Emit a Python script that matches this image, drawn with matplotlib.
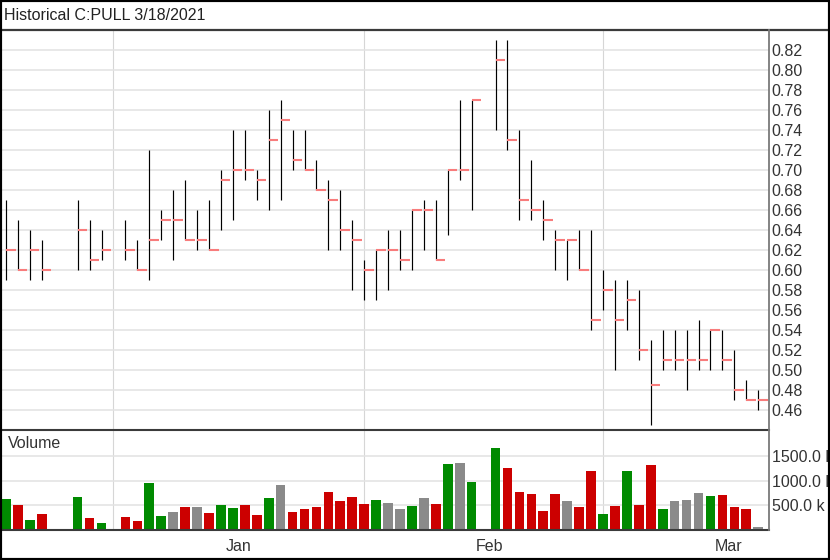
"""
Historical bar chart for C:PULL (Dec 2020 - Mar 2021), price HLC bars + volume.
"""
import matplotlib
matplotlib.use("Agg")
import matplotlib.pyplot as plt
import matplotlib.ticker as mticker
from matplotlib.patches import Rectangle
from matplotlib.lines import Line2D
import numpy as np
import pandas as pd

plt.rcParams["font.family"] = ["Liberation Sans", "DejaVu Sans"]

W, H = 830, 560
DPI = 100

TITLE = "Historical C:PULL 3/18/2021"

# one slot per weekday; None = no trade that day
dates = pd.bdate_range("2020-12-21", "2021-03-18")

highs = [0.67, 0.65, 0.64, 0.63, None, None, 0.67, 0.65, 0.64, None,
         0.65, 0.63, 0.72, 0.66, 0.68, 0.69, 0.66, 0.67, 0.70, 0.74,
         0.74, 0.70, 0.76, 0.77, 0.74, 0.74, 0.71, 0.69, 0.68, 0.65,
         0.61, 0.62, 0.64, 0.64, 0.66, 0.67, 0.67, 0.70, 0.77, 0.77,
         None, 0.83, 0.83, 0.74, 0.71, 0.67, 0.64, 0.63, 0.64, 0.64,
         0.60, 0.59, 0.59, 0.58, 0.53, 0.54, 0.54, 0.54, 0.55, 0.54,
         0.54, 0.52, 0.49, 0.48]
lows = [0.59, 0.60, 0.59, 0.59, None, None, 0.60, 0.60, 0.61, None,
        0.61, 0.60, 0.59, 0.63, 0.61, 0.63, 0.62, 0.62, 0.64, 0.65,
        0.69, 0.67, 0.66, 0.67, 0.70, 0.70, 0.68, 0.62, 0.62, 0.58,
        0.57, 0.57, 0.58, 0.60, 0.60, 0.62, 0.61, 0.635, 0.69, 0.66,
        None, 0.74, 0.72, 0.65, 0.65, 0.63, 0.60, 0.59, 0.60, 0.54,
        0.56, 0.50, 0.54, 0.51, 0.445, 0.50, 0.50, 0.48, 0.50, 0.50,
        0.50, 0.47, 0.47, 0.46]
closes = [0.62, 0.60, 0.62, 0.60, None, None, 0.64, 0.61, 0.62, None,
          0.62, 0.60, 0.63, 0.65, 0.65, 0.63, 0.63, 0.62, 0.69, 0.70,
          0.70, 0.69, 0.73, 0.75, 0.71, 0.70, 0.68, 0.67, 0.64, 0.63,
          0.60, 0.62, 0.62, 0.61, 0.66, 0.66, 0.61, 0.70, 0.70, 0.77,
          None, 0.81, 0.73, 0.67, 0.66, 0.65, 0.63, 0.63, 0.60, 0.55,
          0.58, 0.55, 0.57, 0.52, 0.485, 0.51, 0.51, 0.51, 0.51, 0.54,
          0.51, 0.48, 0.47, 0.47]
# volume in thousands of shares
volumes_k = [616, 500, 194, 310, None, None, 669, 228, 133, None,
             249, 173, 942, 269, 357, 459, 459, 337, 494, 439,
             494, 289, 643, 908, 357, 411, 466, 765, 581, 656,
             520, 602, 547, 424, 486, 649, 527, 1330, 1350, 975,
             None, 1656, 1248, 759, 718, 377, 718, 575, 459, 1193,
             316, 473, 1187, 500, 1316, 412, 581, 602, 738, 690,
             710, 459, 424, 45]
# U = up, D = down, F = flat
vol_dir = list("UDUD--UDU-"
               "DDUUFDFDUU"
               "DDUFDDDDDD"
               "DUFFUFDUFU"
               "-UDDDDDFDD"
               "UDUDDUFFFU"
               "DDDF")

PRICE_TICKS = [0.46, 0.48, 0.50, 0.52, 0.54, 0.56, 0.58, 0.60, 0.62, 0.64,
               0.66, 0.68, 0.70, 0.72, 0.74, 0.76, 0.78, 0.80, 0.82]
VOL_TICKS_K = [500, 1000, 1500]
MONTH_STARTS = ["2021-01-01", "2021-02-01", "2021-03-01"]
MONTH_MIDS = ["2021-01-15", "2021-02-15", "2021-03-15"]
MONTH_LABELS = ["Jan", "Feb", "Mar"]

C_UP, C_DOWN, C_FLAT = "#008a00", "#cc0000", "#8a8a8a"
C_CLOSE = "#f87c7c"
C_GRID = "#e2e2e2"
C_VGRID = "#d6d6d6"
C_FRAME = "#3a3a3a"
C_TEXT = "#333333"
FS = 11.5

hi = np.array(highs, dtype=float)
lo = np.array(lows, dtype=float)
cl = np.array(closes, dtype=float)
vol = np.array(volumes_k, dtype=float) * 1000
x = np.arange(len(dates))
dir_color = {"U": C_UP, "D": C_DOWN, "F": C_FLAT, "-": C_FLAT}

fig = plt.figure(figsize=(W / DPI, H / DPI), dpi=DPI)

def fx(px): return px / W
def fy(py): return 1 - py / H

# panel geometry in pixels
L, R = 2, 769
TOP, MID, BASE = 30, 430, 529.5

ax = fig.add_axes([fx(L), fy(MID), fx(R - L), (MID - TOP) / H])
axv = fig.add_axes([fx(L), fy(BASE), fx(R - L), (BASE - MID) / H], sharex=ax)

xlim = ((L - 6) / 11.94, (R - 6) / 11.94)

# ── price panel ──────────────────────────────────────────────────────────────
ok = ~np.isnan(hi)
ax.vlines(x[ok], lo[ok], hi[ok], color="black", lw=0.85, zorder=3)
ax.hlines(cl[ok], x[ok], x[ok] + 0.8, color=C_CLOSE, lw=1.5, zorder=4)
ax.set_ylim(0.44, 0.84)
ax.set_xlim(*xlim)
ax.set_yticks(PRICE_TICKS)
ax.yaxis.set_major_formatter(mticker.FormatStrFormatter("%.2f"))
ax.yaxis.tick_right()
ax.tick_params(axis="y", length=0, pad=1.8, labelsize=FS, labelcolor=C_TEXT)
ax.tick_params(axis="x", length=0, labelbottom=False)
for v in PRICE_TICKS:
    ax.axhline(v, color=C_GRID, lw=1.1, zorder=1)

# ── volume panel ─────────────────────────────────────────────────────────────
okv = ~np.isnan(vol)
axv.bar(x[okv], vol[okv], width=0.81,
        color=[dir_color[d] for d, k in zip(vol_dir, okv) if k], zorder=3)
axv.set_ylim(0, 2031000)
axv.set_yticks([v * 1000 for v in VOL_TICKS_K])
axv.yaxis.set_major_formatter(mticker.FuncFormatter(lambda v, p: f"{v / 1000:.1f} k"))
axv.yaxis.tick_right()
axv.tick_params(axis="y", length=0, pad=1.8, labelsize=FS, labelcolor=C_TEXT)
for v in VOL_TICKS_K:
    axv.axhline(v * 1000, color=C_GRID, lw=1.1, zorder=1)
axv.text(6 / (R - L), 0.86, "Volume", transform=axv.transAxes,
         fontsize=FS, color=C_TEXT, ha="left", va="center")

# month ticks: gridlines on the 1st, labels centred on the 15th
pos = {d: i for i, d in enumerate(dates.strftime("%Y-%m-%d"))}
for d in MONTH_STARTS:
    for a in (ax, axv):
        a.axvline(pos[d], color=C_VGRID, lw=0.8, zorder=0)
axv.set_xticks([pos[d] + 0.5 for d in MONTH_MIDS])
axv.set_xticklabels(MONTH_LABELS)
axv.tick_params(axis="x", length=0, pad=7, labelsize=FS, labelcolor=C_TEXT)

for a in (ax, axv):
    for s in a.spines.values():
        s.set_visible(False)

# ── frame lines ──────────────────────────────────────────────────────────────
def hline(py, x0, x1, color, lw):
    fig.add_artist(Line2D([fx(x0), fx(x1)], [fy(py), fy(py)], color=color, lw=lw,
                          transform=fig.transFigure, zorder=10))

hline(29.5, 0, W, C_FRAME, 1.6)
hline(MID, 0, R, C_FRAME, 1.5)
hline(BASE, 0, R, C_FRAME, 1.5)
fig.add_artist(Line2D([fx(R), fx(R)], [fy(TOP), fy(BASE)], color="#7a7a7a", lw=1.3,
                      transform=fig.transFigure, zorder=10))

fig.text(fx(4), fy(15), TITLE, fontsize=FS, color="#222222", ha="left", va="center")

fig.add_artist(Rectangle((0, 0), 1, 1, transform=fig.transFigure, fill=False,
                         edgecolor="black", lw=3, zorder=20))

fig.savefig("out.png", dpi=DPI)
